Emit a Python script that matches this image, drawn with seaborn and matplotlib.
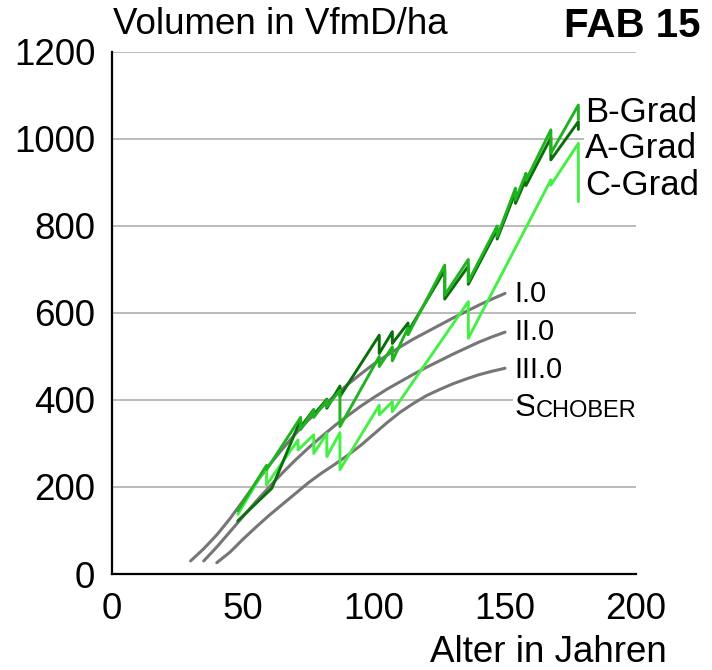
import matplotlib
matplotlib.use("Agg")
import matplotlib.pyplot as plt
import seaborn as sns

# Schober yield table curves (age in years, volume VfmD/ha)
I0_age = [30, 35, 40, 45, 50, 55, 60, 65, 70, 75, 80, 85, 90, 95, 100, 105, 110, 115, 120, 125, 130, 135, 140, 145, 150]
I0_vol = [30, 58, 90, 127, 168, 210, 250, 287, 322, 354, 383, 410, 436, 460, 483, 503, 522, 540, 556, 572, 588, 603, 618, 632, 645]

II0_age = [35, 40, 45, 50, 55, 60, 65, 70, 75, 80, 85, 90, 95, 100, 105, 110, 115, 120, 125, 130, 135, 140, 145, 150]
II0_vol = [30, 62, 97, 132, 167, 200, 232, 262, 290, 316, 341, 364, 386, 406, 425, 442, 459, 475, 490, 505, 519, 533, 545, 556]

III0_age = [40, 45, 50, 55, 60, 65, 70, 75, 80, 85, 90, 95, 100, 105, 110, 115, 120, 125, 130, 135, 140, 145, 150]
III0_vol = [26, 50, 80, 108, 135, 160, 185, 210, 232, 252, 273, 296, 322, 348, 372, 392, 410, 424, 437, 448, 458, 466, 473]

# thinning grades (before / after thinning at each survey)
A_age = [48, 61, 72, 72, 77, 77, 82, 82, 87, 87, 102, 102, 107, 107, 113, 113, 127, 127,
         136, 136, 147, 147, 154, 154, 158, 158, 167.5, 167.5, 178, 178]
A_vol = [122, 197, 355, 338, 378, 366, 402, 381, 432, 408, 549, 507, 557, 530, 577, 557, 698, 632,
         708, 666, 792, 770, 878, 852, 908, 893, 1003, 952, 1040, 1022]

B_age = [48, 59, 59, 72, 72, 77, 77, 82, 82, 87, 87, 102, 102, 107, 107, 113, 113, 127, 127,
         136, 136, 147, 147, 154, 154, 158, 158, 167.5, 167.5, 178, 178]
B_vol = [145, 250, 240, 360, 332, 377, 360, 400, 385, 422, 339, 500, 477, 522, 490, 566, 550, 710, 641,
         723, 672, 800, 776, 887, 860, 921, 905, 1021, 967, 1078, 1045]

C_age = [48, 59, 59, 71, 71, 77, 77, 82, 82, 87, 87, 102, 102, 107, 107, 136, 136, 167.5, 167.5, 178, 178]
C_vol = [137, 248, 205, 308, 285, 320, 277, 323, 270, 325, 240, 388, 366, 396, 373, 626, 542, 906, 894, 990, 856]

GRAY = "#767676"
A_COLOR = "#0a6e0a"
B_COLOR = "#1fb41f"
C_COLOR = "#46ef46"

sns.set_style("white")
plt.rcParams["font.family"] = ["Liberation Sans", "DejaVu Sans"]
for key in ["text.color", "axes.labelcolor", "xtick.color", "ytick.color"]:
    plt.rcParams[key] = "black"

fig = plt.figure(figsize=(7.12, 6.70), dpi=100)
ax = fig.add_axes([112 / 712, 96 / 670, 524 / 712, 522 / 670])

for yv in [200, 400, 600, 800, 1000, 1200]:
    ax.axhline(yv, color="#a8a8a8", lw=1.1, zorder=0)

for a, v in [(I0_age, I0_vol), (II0_age, II0_vol), (III0_age, III0_vol)]:
    sns.lineplot(x=a, y=v, ax=ax, color=GRAY, lw=2.2, estimator=None, sort=False)

sns.lineplot(x=C_age, y=C_vol, ax=ax, color=C_COLOR, lw=2.1, estimator=None, sort=False)
sns.lineplot(x=A_age, y=A_vol, ax=ax, color=A_COLOR, lw=2.1, estimator=None, sort=False)
sns.lineplot(x=B_age, y=B_vol, ax=ax, color=B_COLOR, lw=2.1, estimator=None, sort=False)

ax.set_xlim(0, 200)
ax.set_ylim(0, 1200)
ax.set_xticks([0, 50, 100, 150, 200])
ax.set_yticks([0, 200, 400, 600, 800, 1000, 1200])
ax.tick_params(axis="x", direction="in", length=8, width=1.5, labelsize=26.5, pad=13)
ax.tick_params(axis="y", direction="out", length=7, width=1.5, labelsize=26.5, pad=5)
for side in ["top", "right"]:
    ax.spines[side].set_visible(False)
for side in ["left", "bottom"]:
    ax.spines[side].set_linewidth(1.6)
    ax.spines[side].set_color("black")
ax.set_xlabel("")
ax.set_ylabel("")

box = dict(facecolor="white", edgecolor="none", pad=1)
for txt, yv in [("B-Grad", 1039), ("A-Grad", 956), ("C-Grad", 871)]:
    ax.text(180.5, yv, txt, fontsize=25, va="baseline", ha="left", bbox=box, clip_on=False)
for txt, yv in [("I.0", 626), ("II.0", 538), ("III.0", 450)]:
    ax.text(153.5, yv, txt, fontsize=21, va="baseline", ha="left", bbox=box)
s = ax.text(153.5, 363, "S", fontsize=23, va="baseline", ha="left", bbox=box)
ax.annotate("CHOBER", xy=(1, 0), xycoords=s, xytext=(0, 1), textcoords="offset points",
            fontsize=17, va="bottom", ha="left", bbox=box)

fig.text(113 / 712, 0.99, "Volumen in VfmD/ha", fontsize=26.5, ha="left", va="top")
fig.text(700 / 712, 0.99, "FAB 15", fontsize=29, fontweight="bold", ha="right", va="top")
fig.text(667 / 712, 1 - 662 / 670, "Alter in Jahren", fontsize=26.5, ha="right", va="baseline")

fig.savefig("out.png", dpi=100)
